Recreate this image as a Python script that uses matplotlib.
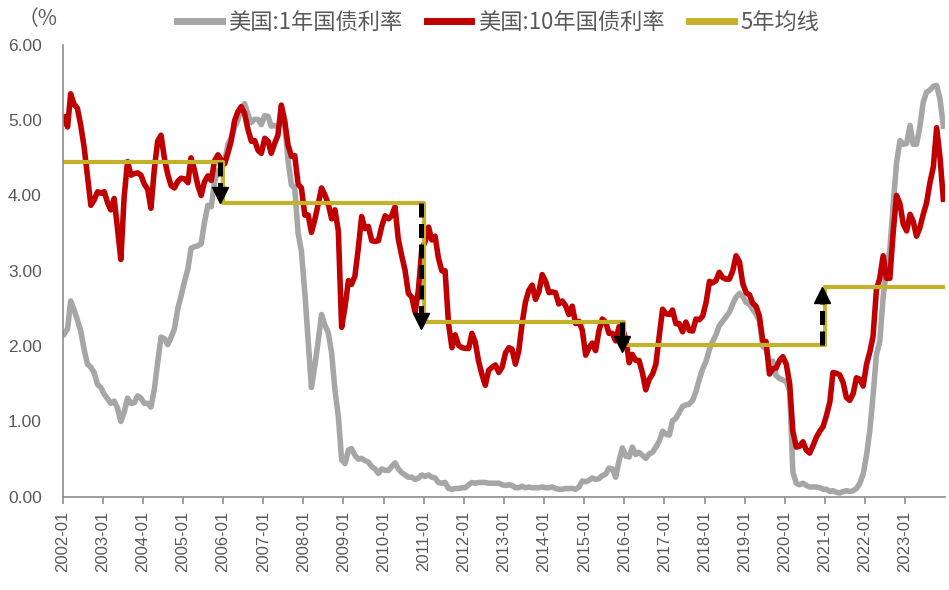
import numpy as np
import pandas as pd
import matplotlib
matplotlib.use("Agg")
from matplotlib import pyplot as plt
import matplotlib.dates as mdates

plt.rcParams['font.family'] = ['Liberation Sans', 'Noto Sans CJK SC', 'DejaVu Sans']

# monthly values, 2002-01 .. 2023-12
us10y = [
    5.04, 4.91, 5.35, 5.21, 5.16, 4.93, 4.65, 4.26, 3.87, 3.94, 4.05, 4.03,
    4.05, 3.90, 3.81, 3.96, 3.57, 3.15, 3.98, 4.45, 4.27, 4.29, 4.30, 4.27,
    4.15, 4.08, 3.83, 4.35, 4.72, 4.80, 4.50, 4.28, 4.13, 4.10, 4.19, 4.23,
    4.22, 4.17, 4.50, 4.34, 4.14, 4.00, 4.18, 4.26, 4.20, 4.46, 4.54, 4.47,
    4.42, 4.57, 4.72, 4.99, 5.11, 5.18, 5.09, 4.88, 4.72, 4.73, 4.60, 4.56,
    4.76, 4.72, 4.56, 4.69, 4.80, 5.20, 5.00, 4.67, 4.52, 4.53, 4.15, 4.10,
    3.74, 3.74, 3.51, 3.68, 3.88, 4.10, 4.01, 3.89, 3.69, 3.81, 3.53, 2.25,
    2.52, 2.87, 2.82, 2.93, 3.29, 3.72, 3.56, 3.59, 3.40, 3.39, 3.40, 3.59,
    3.73, 3.69, 3.73, 3.85, 3.42, 3.20, 3.01, 2.70, 2.65, 2.45, 2.76, 3.29,
    3.39, 3.58, 3.41, 3.46, 3.17, 3.00, 3.00, 2.30, 1.98, 2.15, 2.01, 1.98,
    1.97, 1.97, 2.17, 2.05, 1.80, 1.62, 1.48, 1.68, 1.72, 1.75, 1.65, 1.72,
    1.91, 1.98, 1.96, 1.76, 1.93, 2.30, 2.58, 2.74, 2.81, 2.62, 2.72, 2.95,
    2.86, 2.71, 2.72, 2.71, 2.56, 2.60, 2.54, 2.42, 2.53, 2.30, 2.33, 2.21,
    1.88, 1.98, 2.04, 1.94, 2.20, 2.36, 2.32, 2.17, 2.17, 2.07, 2.26, 2.24,
    2.09, 1.78, 1.89, 1.81, 1.81, 1.64, 1.42, 1.56, 1.63, 1.76, 2.14, 2.49,
    2.43, 2.42, 2.48, 2.30, 2.30, 2.19, 2.32, 2.21, 2.20, 2.36, 2.35, 2.40,
    2.58, 2.86, 2.84, 2.87, 2.98, 2.91, 2.89, 2.89, 3.00, 3.20, 3.12, 2.83,
    2.71, 2.68, 2.57, 2.53, 2.40, 2.07, 2.06, 1.63, 1.70, 1.71, 1.81, 1.86,
    1.76, 1.50, 0.87, 0.66, 0.67, 0.73, 0.62, 0.58, 0.68, 0.79, 0.87, 0.93,
    1.08, 1.26, 1.65, 1.64, 1.62, 1.52, 1.32, 1.28, 1.37, 1.58, 1.56, 1.47,
    1.76, 1.93, 2.13, 2.75, 2.90, 3.20, 2.90, 2.90, 3.52, 4.00, 3.89, 3.62,
    3.53, 3.75, 3.66, 3.46, 3.57, 3.75, 3.90, 4.17, 4.38, 4.90, 4.50, 3.95,
]
us1y = [
    2.16, 2.23, 2.60, 2.48, 2.35, 2.20, 1.96, 1.76, 1.72, 1.65, 1.49, 1.45,
    1.36, 1.30, 1.24, 1.27, 1.18, 1.00, 1.12, 1.31, 1.24, 1.25, 1.34, 1.31,
    1.24, 1.24, 1.19, 1.43, 1.78, 2.12, 2.10, 2.02, 2.12, 2.23, 2.50, 2.67,
    2.86, 3.03, 3.30, 3.32, 3.33, 3.36, 3.64, 3.87, 3.85, 4.18, 4.33, 4.35,
    4.45, 4.68, 4.77, 4.90, 5.00, 5.16, 5.22, 5.08, 4.97, 5.01, 5.01, 4.94,
    5.06, 5.05, 4.92, 4.93, 4.91, 4.96, 4.96, 4.47, 4.14, 4.10, 3.50, 3.26,
    2.71, 2.05, 1.45, 1.74, 2.06, 2.42, 2.28, 2.18, 1.91, 1.42, 1.07, 0.49,
    0.44, 0.62, 0.64, 0.55, 0.50, 0.51, 0.48, 0.46, 0.40, 0.37, 0.31, 0.37,
    0.35, 0.35, 0.40, 0.45, 0.37, 0.32, 0.29, 0.26, 0.26, 0.23, 0.25, 0.29,
    0.27, 0.29, 0.26, 0.25, 0.19, 0.18, 0.19, 0.11, 0.10, 0.11, 0.11, 0.12,
    0.12, 0.16, 0.19, 0.18, 0.19, 0.19, 0.19, 0.18, 0.18, 0.18, 0.18, 0.16,
    0.15, 0.16, 0.15, 0.12, 0.12, 0.14, 0.12, 0.13, 0.12, 0.12, 0.12, 0.13,
    0.12, 0.12, 0.13, 0.11, 0.10, 0.10, 0.11, 0.11, 0.11, 0.10, 0.13, 0.21,
    0.20, 0.22, 0.25, 0.23, 0.24, 0.28, 0.30, 0.38, 0.37, 0.26, 0.48, 0.65,
    0.54, 0.53, 0.66, 0.56, 0.59, 0.55, 0.51, 0.57, 0.59, 0.66, 0.74, 0.87,
    0.83, 0.82, 1.01, 1.04, 1.12, 1.20, 1.22, 1.23, 1.28, 1.40, 1.56, 1.70,
    1.80, 1.96, 2.06, 2.15, 2.27, 2.33, 2.39, 2.45, 2.56, 2.65, 2.70, 2.66,
    2.58, 2.55, 2.49, 2.42, 2.34, 2.00, 1.96, 1.77, 1.80, 1.61, 1.57, 1.55,
    1.53, 1.41, 0.33, 0.18, 0.16, 0.18, 0.15, 0.13, 0.13, 0.13, 0.12, 0.10,
    0.10, 0.07, 0.08, 0.06, 0.05, 0.07, 0.08, 0.07, 0.08, 0.11, 0.18, 0.30,
    0.55, 0.90, 1.34, 1.89, 2.06, 2.65, 3.02, 3.28, 3.89, 4.43, 4.73, 4.68,
    4.69, 4.93, 4.68, 4.68, 4.91, 5.24, 5.37, 5.40, 5.45, 5.46, 5.28, 4.92,
]

# 5-year average step line
avg_starts = ['2002-01-01', '2006-01-01', '2011-01-01', '2016-01-01', '2021-01-01']
avg_end = '2024-01-01'
avg_levels = [4.45, 3.90, 2.32, 2.01, 2.78]

dates = pd.date_range('2002-01-01', periods=len(us10y), freq='MS') + pd.Timedelta(days=14)
step_x = pd.to_datetime(avg_starts + [avg_end])
step_y = avg_levels + [avg_levels[-1]]

fig = plt.figure(figsize=(9.49, 5.90), dpi=100)
ax = fig.add_axes([0.066, 0.158, 0.930, 0.766])

l1, = ax.plot(dates, us1y, color='#A6A6A6', lw=4, label='美国:1年国债利率')
l2, = ax.plot(dates, us10y, color='#C00000', lw=4, label='美国:10年国债利率')
l3, = ax.step(step_x, step_y, where='post', color='#C3B12C', lw=3, label='5年均线')

# dashed black arrows at each change of the 5-year average
off = pd.Timedelta(days=25)
head = 0.2  # arrowhead height in data units
for i in range(1, len(avg_levels)):
    x = step_x[i] - off
    y0, y1 = avg_levels[i - 1], avg_levels[i]
    if y1 < y0:
        tip = y1 - 0.08 if i > 1 else y1
        base = tip + head
        mk = 'v'
    else:
        tip = y1
        base = tip - head
        mk = '^'
    ax.plot([x, x], [y0, base], color='black', lw=3.6, dashes=(2.8, 1.3), zorder=5,
            solid_capstyle='butt', dash_capstyle='butt')
    ax.plot([x], [(tip + base) / 2], marker=mk, ms=12, color='black', zorder=6)

ax.set_ylim(0, 6)
ax.set_xlim(pd.Timestamp('2002-01-01'), pd.Timestamp('2024-01-01'))
ax.set_yticks(np.arange(0, 6.01, 1))
ax.yaxis.set_major_formatter(matplotlib.ticker.FormatStrFormatter('%.2f'))
ax.xaxis.set_major_locator(mdates.YearLocator(1, month=1, day=1))
ax.xaxis.set_major_formatter(mdates.DateFormatter('%Y-%m'))
ticks = ax.get_xticks()
ax.set_xticks(ticks[:-1])
plt.setp(ax.get_xticklabels(), rotation=90)

for s in ['top', 'right']:
    ax.spines[s].set_visible(False)
for s in ['left', 'bottom']:
    ax.spines[s].set_color('#8C8C8C')
    ax.spines[s].set_linewidth(1.2)
ax.tick_params(axis='x', colors='#8C8C8C', labelcolor='#595959', labelsize=12,
               length=5, width=1.2, direction='out', pad=5)
ax.tick_params(axis='y', labelcolor='#595959', labelsize=12.5, length=0, pad=15)

fig.text(0.018, 0.968, '（%', fontsize=15, color='#595959',
         family=['Noto Sans CJK SC', 'DejaVu Sans'], va='center')

leg = fig.legend(handles=[l1, l2, l3], loc='center', bbox_to_anchor=(0.525, 0.962),
                 ncol=3, frameon=False, handlelength=2.0, columnspacing=1.1,
                 handletextpad=0.3, prop={'family': ['Noto Sans CJK SC', 'DejaVu Sans'], 'size': 16})
for t in leg.get_texts():
    t.set_color('#595959')
for h in leg.legend_handles:
    h.set_linewidth(5)

fig.savefig('out.png', dpi=100)
